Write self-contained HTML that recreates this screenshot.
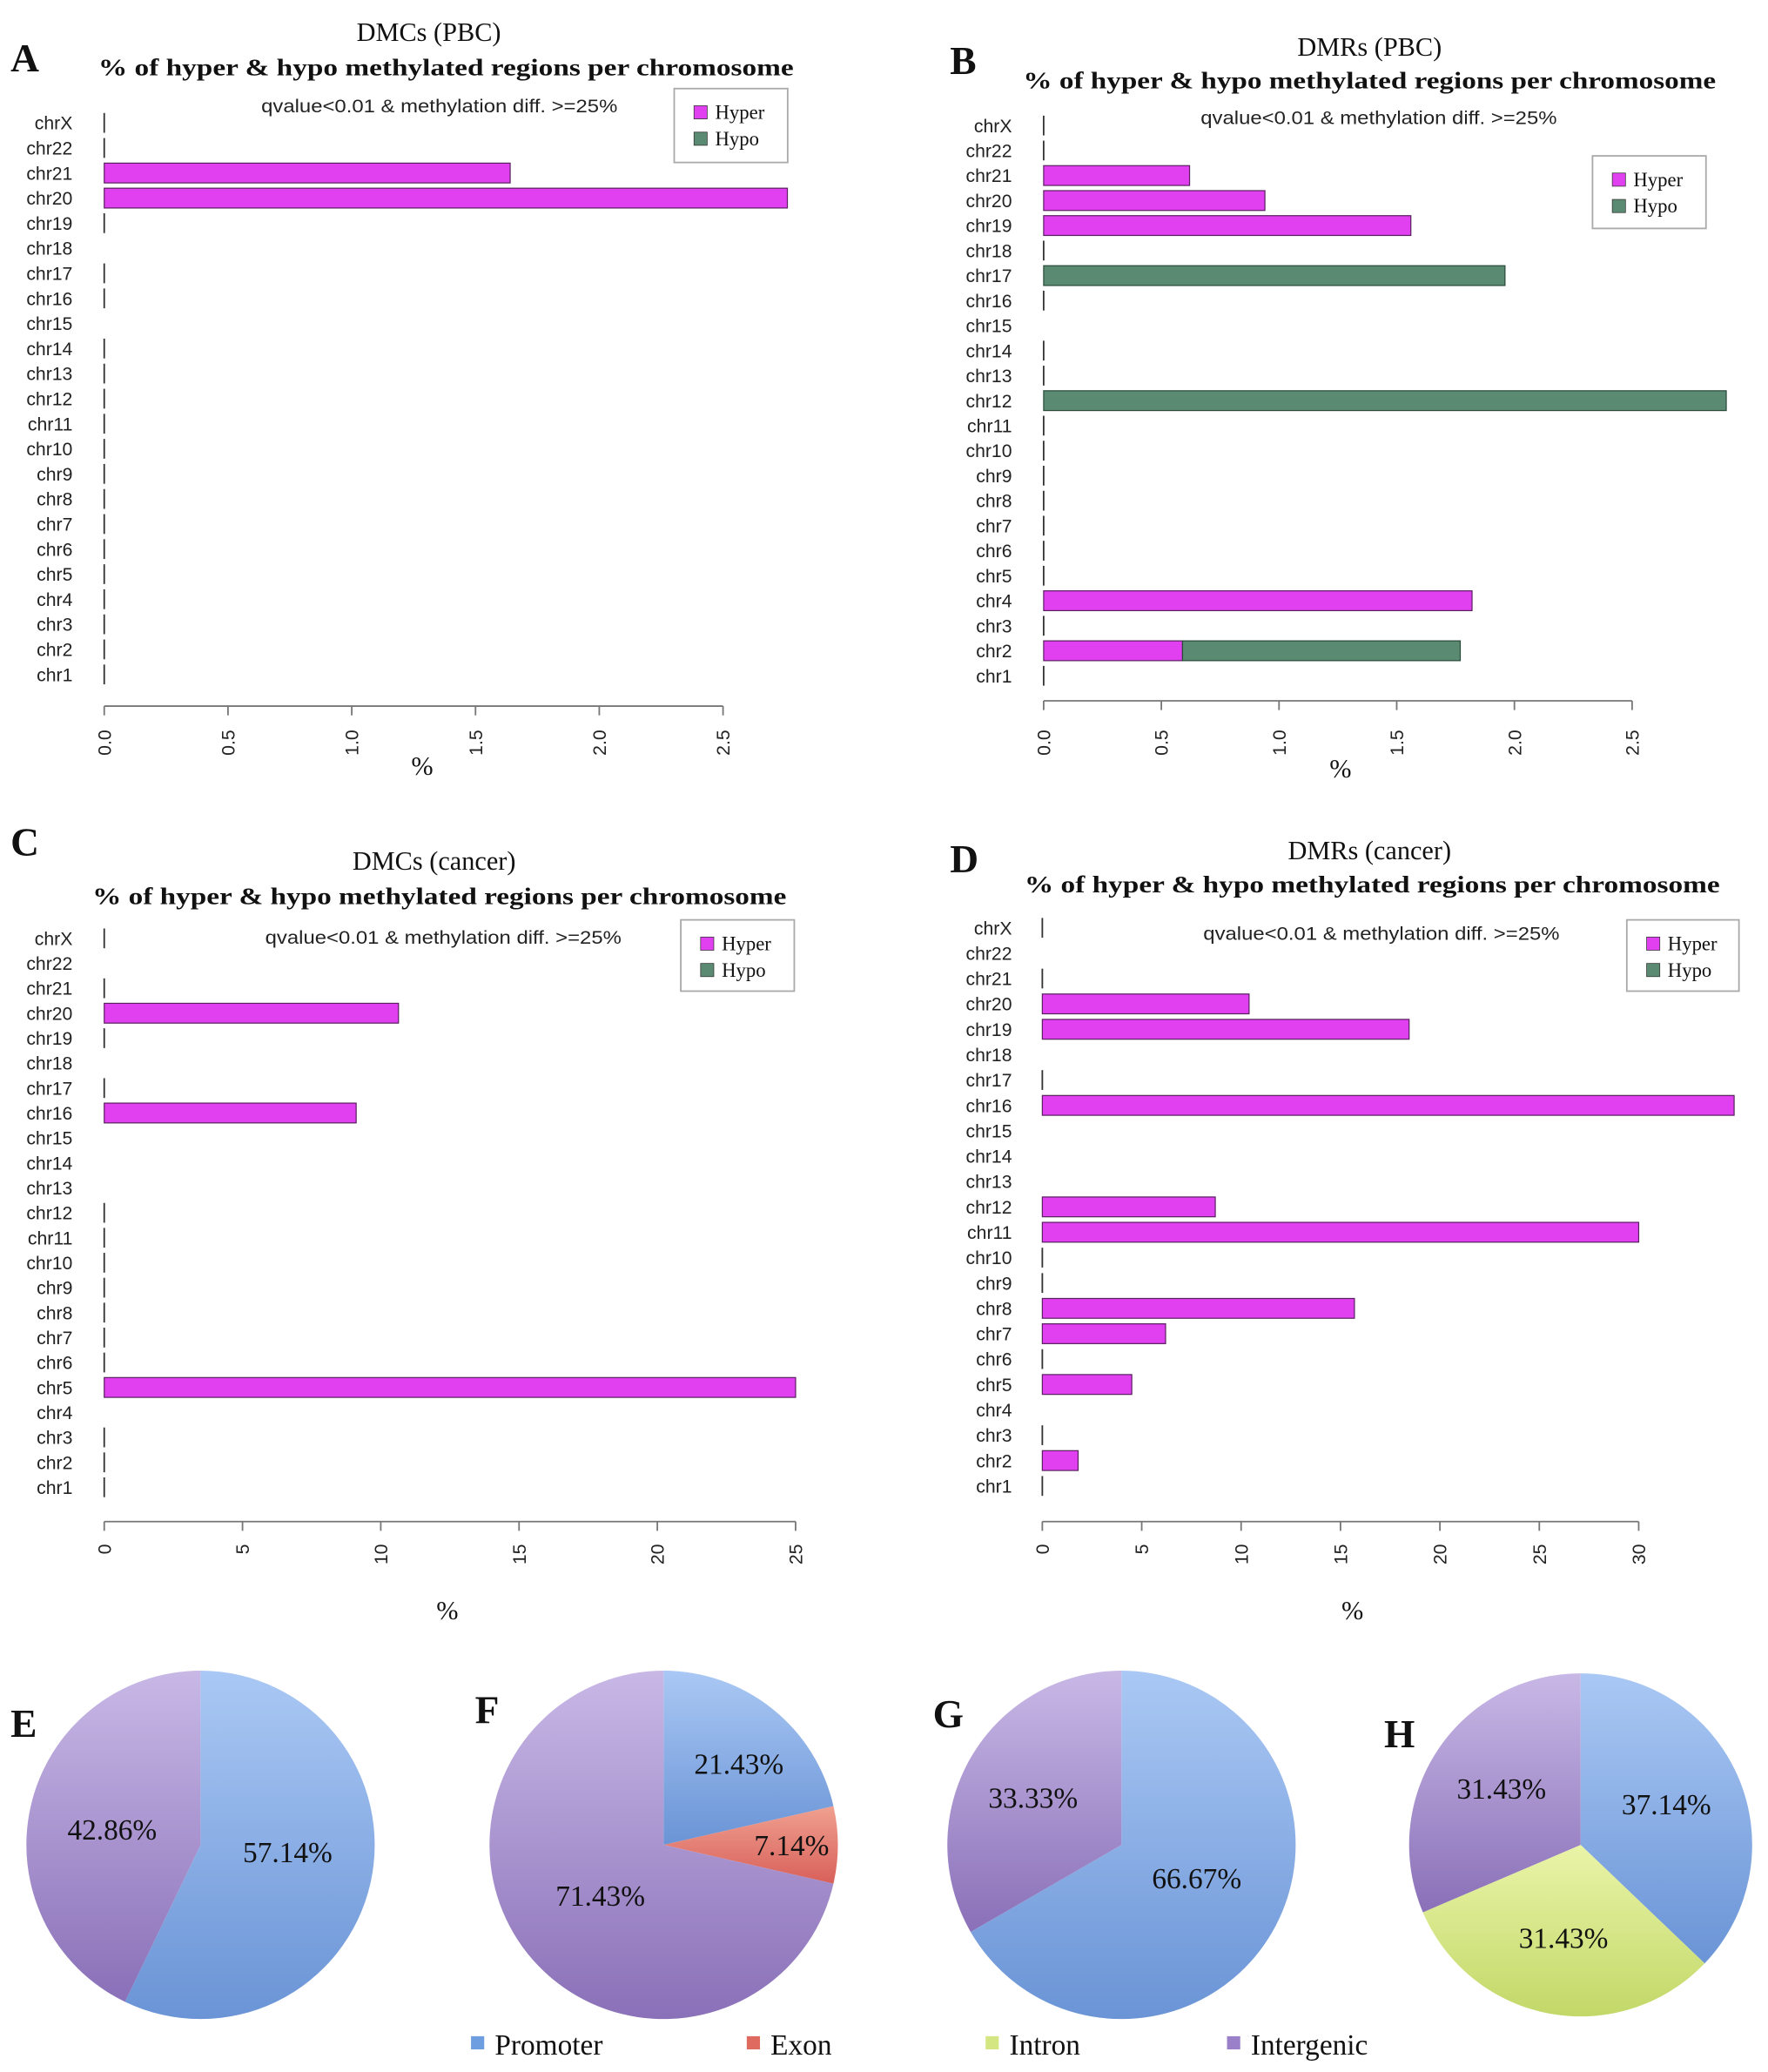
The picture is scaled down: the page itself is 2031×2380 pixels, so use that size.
<!DOCTYPE html>
<html><head><meta charset="utf-8"><style>
html,body{margin:0;padding:0;background:#fff}
svg{display:block}
.lab{font-family:"Liberation Sans",sans-serif;font-size:14px;fill:#222}
.ser{font-family:"Liberation Serif",serif;fill:#111}
</style></head><body>
<svg id="fig" width="2031" height="2380" viewBox="0 0 1340 1570" xmlns="http://www.w3.org/2000/svg">
<defs>
<linearGradient id="gProm" x1="0" y1="0" x2="0" y2="1"><stop offset="0" stop-color="#aac8f4"/><stop offset="1" stop-color="#6a94d6"/></linearGradient>
<linearGradient id="gInter" x1="0" y1="0" x2="0" y2="1"><stop offset="0" stop-color="#c8b8e6"/><stop offset="1" stop-color="#8a70b8"/></linearGradient>
<linearGradient id="gExon" x1="0" y1="0" x2="0" y2="1"><stop offset="0" stop-color="#f0a090"/><stop offset="1" stop-color="#d8605a"/></linearGradient>
<linearGradient id="gIntron" x1="0" y1="0" x2="0" y2="1"><stop offset="0" stop-color="#eaf4a8"/><stop offset="1" stop-color="#c2d868"/></linearGradient>
</defs>
</svg>
<script>
const NS='http://www.w3.org/2000/svg';
const svg=document.getElementById('fig');
const chroms=['chrX','chr22','chr21','chr20','chr19','chr18','chr17','chr16','chr15','chr14','chr13','chr12','chr11','chr10','chr9','chr8','chr7','chr6','chr5','chr4','chr3','chr2','chr1'];
// null = no mark, 0 = zero tick line
const hyperA=[0,0,1.64,2.76,0,null,0,0,null,0,0,0,0,0,0,0,0,0,0,0,0,0,0];
const hypoA =[0,0,0,0,0,null,0,0,null,0,0,0,0,0,0,0,0,0,0,0,0,0,0];
const hyperB=[0,0,0.62,0.94,1.56,0,0,0,null,0,0,0,0,0,0,0,0,0,0,1.82,0,0.59,0];
const hypoB =[0,0,0,0,0,0,1.96,0,null,0,0,2.90,0,0,0,0,0,0,0,0,0,1.18,0];
const hyperC=[0,null,0,10.64,0,null,0,9.11,null,null,null,0,0,0,0,0,0,0,25,null,0,0,0];
const hypoC =[0,null,0,0,0,null,0,0,null,null,null,0,0,0,0,0,0,0,0,null,0,0,0];
const hyperD=[0,null,0,10.4,18.45,null,0,34.8,null,null,null,8.7,30,0,0,15.7,6.2,0,4.5,null,0,1.8,0];
const hypoD =[0,null,0,0,0,null,0,0,null,null,null,0,0,0,0,0,0,0,0,null,0,0,0];
const ticksAB=[0,0.5,1.0,1.5,2.0,2.5];
const tickLabAB=['0.0','0.5','1.0','1.5','2.0','2.5'];
const ticksC=[0,5,10,15,20,25];
const ticksD=[0,5,10,15,20,25,30];
const pieLabels=['Promoter','Exon','Intron','Intergenic'];
const pieE=[57.14,0,0,42.86];
const pieF=[21.43,7.14,0,71.43];
const pieG=[66.67,0,0,33.33];
const pieH=[37.14,0,31.43,31.43];

function el(tag,attrs,parent,text){const e=document.createElementNS(NS,tag);for(const k in attrs)e.setAttribute(k,attrs[k]);if(text!==undefined)e.textContent=text;(parent||svg).appendChild(e);return e;}

const panels=[
 {id:'a',letter:'A',lx:8,ly:54,title:'DMCs (PBC)',tx:325,ty:31,sx:338,sy:57,sw:527,qx:333,qy:85,
  leg:[511,67,86,56],y0:93,y1:511,labx:55,x0:79,xmax:2.5,xpx:548,axy:535,tly:553,px:320,py:587,
  hyper:hyperA,hypo:hypoA,ticks:ticksAB,tl:tickLabAB},
 {id:'b',letter:'B',lx:720,ly:56,title:'DMRs (PBC)',tx:1038,ty:42,sx:1038,sy:67,sw:525,qx:1045,qy:94,
  leg:[1207,118,86,55],y0:95,y1:512,labx:767,x0:791,xmax:2.5,xpx:1237,axy:531,tly:553,px:1016,py:589,
  hyper:hyperB,hypo:hypoB,ticks:ticksAB,tl:tickLabAB},
 {id:'c',letter:'C',lx:8,ly:648,title:'DMCs  (cancer)',tx:329,ty:659,sx:333,sy:685,sw:526,qx:336,qy:715,
  leg:[516,697,86,54],y0:711,y1:1127,labx:55,x0:79,xmax:25,xpx:603,axy:1153,tly:1170,px:339,py:1227,
  hyper:hyperC,hypo:hypoC,ticks:ticksC,tl:ticksC.map(String)},
 {id:'d',letter:'D',lx:720,ly:661,title:'DMRs  (cancer)',tx:1038,ty:651,sx:1040,sy:676,sw:527,qx:1047,qy:712,
  leg:[1233,697,85,54],y0:703,y1:1126,labx:767,x0:790,xmax:30,xpx:1242,axy:1153,tly:1170,px:1025,py:1227,
  hyper:hyperD,hypo:hypoD,ticks:ticksD,tl:ticksD.map(String)}
];

panels.forEach(p=>{
  const g=el('g',{});
  
  
  const xs=v=>p.x0+(p.xpx-p.x0)*v/p.xmax;
  const rowY=i=>p.y0+(p.y1-p.y0)*i/(chroms.length-1);
  let t=el('text',{x:p.lx,y:p.ly,class:'ser','font-size':30,'font-weight':'bold'},g,p.letter);
  
  t=el('text',{x:p.tx,y:p.ty,class:'ser','font-size':20,'text-anchor':'middle'},g,p.title);
  
  t=el('text',{x:p.sx,y:p.sy,class:'ser','font-size':18,'font-weight':'bold','text-anchor':'middle',textLength:p.sw,lengthAdjust:'spacingAndGlyphs'},g,'% of hyper & hypo methylated regions per chromosome');
  
  t=el('text',{x:p.qx,y:p.qy,class:'lab','font-size':13,'text-anchor':'middle',textLength:270,lengthAdjust:'spacingAndGlyphs'},g,'qvalue<0.01 & methylation diff. >=25%');
  
  // legend
  const lg=el('g',{},g);
  
  const [lx,ly,lw,lh]=p.leg;
  el('rect',{x:lx,y:ly,width:lw,height:lh,fill:'#fff',stroke:'#aaa','stroke-width':1.2},lg);
  [['Hyper','#e040f0'],['Hypo','#5a8a72']].forEach((e,i)=>{
    const r=el('rect',{x:lx+15,y:ly+13+i*20,width:10,height:10,fill:e[1],stroke:'#333','stroke-width':0.5},lg);
    
    const tt=el('text',{x:lx+31,y:ly+23+i*20,class:'ser','font-size':15},lg,e[0]);
    
  });
  // rows
  chroms.forEach((c,i)=>{
    const y=rowY(i);
    const tl=el('text',{x:p.labx,y:y+5,class:'lab','text-anchor':'end'},g,c);
    
    const hv=p.hyper[i],ov=p.hypo[i];
    if(hv===null)return;
    const bh=15;
    if(hv>0){
      const b=el('rect',{x:xs(0),y:y-bh/2,width:xs(hv)-xs(0),height:bh,fill:'#e040f0',stroke:'#5a2060','stroke-width':0.8},g);
      
    }
    if(ov>0){
      const b=el('rect',{x:xs(hv),y:y-bh/2,width:xs(hv+ov)-xs(hv),height:bh,fill:'#5a8a72',stroke:'#2a4a3a','stroke-width':0.8},g);
      
    }
    if(hv===0&&ov===0){
      const l=el('line',{x1:xs(0),x2:xs(0),y1:y-bh/2,y2:y+bh/2,stroke:'#333','stroke-width':1.2},g);
      
    }
  });
  // x axis
  const ax=el('g',{},g);
  
  el('line',{x1:xs(p.ticks[0]),x2:xs(p.ticks[p.ticks.length-1]),y1:p.axy,y2:p.axy,stroke:'#777','stroke-width':1.2},ax);
  p.ticks.forEach((v,k)=>{
    const x=xs(v);
    el('line',{x1:x,x2:x,y1:p.axy,y2:p.axy+7,stroke:'#777','stroke-width':1.2},ax);
    const tt=el('text',{x:0,y:0,class:'lab','font-size':13,'text-anchor':'end',transform:`translate(${x+5},${p.tly}) rotate(-90)`},ax,p.tl[k]);
    
  });
  t=el('text',{x:p.px,y:p.py,class:'ser','font-size':20,'text-anchor':'middle'},g,'%');
  
});

// pies
const fills=['url(#gProm)','url(#gExon)','url(#gIntron)','url(#gInter)'];
const pies=[
 {id:'e',letter:'E',lx:8,ly:1316,cx:152,cy:1398,r:132,vals:pieE,labs:[[218,1411],null,null,[85,1394]]},
 {id:'f',letter:'F',lx:360,ly:1306,cx:503,cy:1398,r:132,vals:pieF,labs:[[560,1344],[600,1406],null,[455,1444]]},
 {id:'g',letter:'G',lx:707,ly:1309,cx:850,cy:1398,r:132,vals:pieG,labs:[[907,1431],null,null,[783,1370]]},
 {id:'h',letter:'H',lx:1049,ly:1324,cx:1198,cy:1398,r:130,vals:pieH,labs:[[1263,1375],null,[1185,1476],[1138,1363]]}
];
pies.forEach(p=>{
  const g=el('g',{});
  
  
  const tot=p.vals.reduce((a,b)=>a+b,0);
  let a0=0;
  p.vals.forEach((v,i)=>{
    if(v<=0)return;
    const a1=a0+v/tot*2*Math.PI;
    const x0=p.cx+p.r*Math.sin(a0),y0=p.cy-p.r*Math.cos(a0);
    const x1=p.cx+p.r*Math.sin(a1),y1=p.cy-p.r*Math.cos(a1);
    const large=(a1-a0)>Math.PI?1:0;
    const s=el('path',{d:`M${p.cx},${p.cy} L${x0},${y0} A${p.r},${p.r} 0 ${large} 1 ${x1},${y1} Z`,fill:fills[i]},g);
    
    a0=a1;
  });
  p.vals.forEach((v,i)=>{
    if(v<=0||!p.labs[i])return;
    const t=el('text',{x:p.labs[i][0],y:p.labs[i][1],class:'ser','font-size':22,'text-anchor':'middle'},g,v.toFixed(2)+'%');
    
  });
  const t=el('text',{x:p.lx,y:p.ly,class:'ser','font-size':30,'font-weight':'bold'},g,p.letter);
  
});
// pie legend
const lg=el('g',{});


const legX=[357,566,747,930];
const legC=['#6f9ee0','#de6a60','#d4e682','#9a80c8'];
pieLabels.forEach((n,i)=>{
  const r=el('rect',{x:legX[i],y:1543,width:10,height:10,fill:legC[i]},lg);
  
  const t=el('text',{x:legX[i]+18,y:1557,class:'ser','font-size':22},lg,n);
  
});
</script>
</body></html>
